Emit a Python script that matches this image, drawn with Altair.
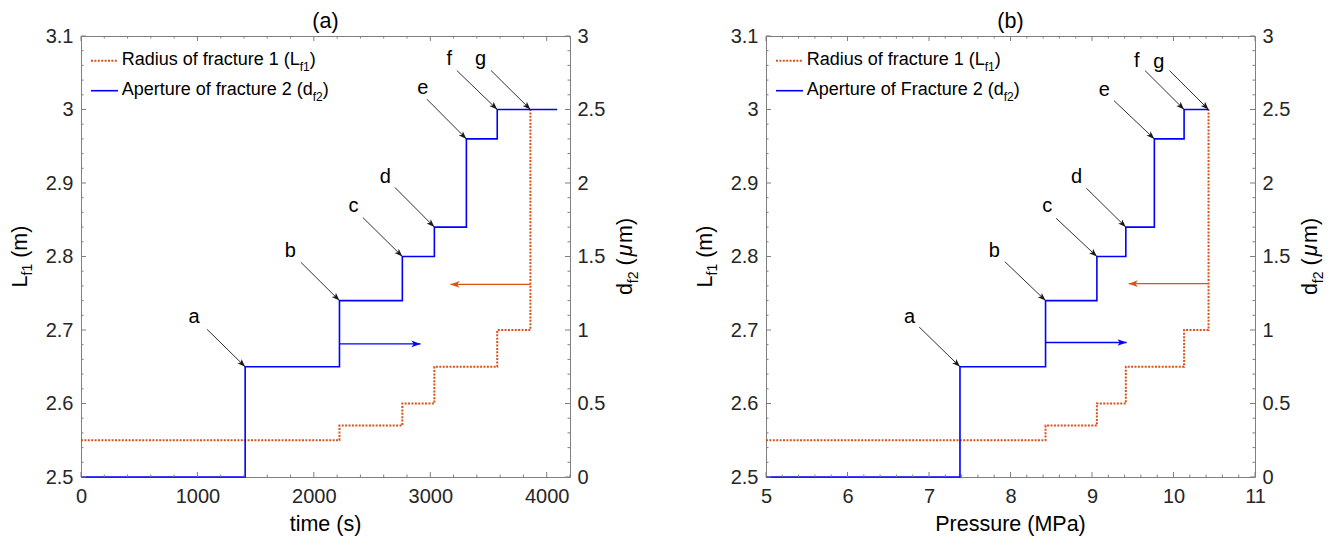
import math
import altair as alt
import pandas as pd

# ---------------- data ----------------
letters = ["a", "b", "c", "d", "e", "f", "g"]
aperture_um = [0, 0.75, 1.2, 1.5, 1.7, 2.3, 2.5, 2.5]      # d_f2 steps (right axis)
radius_m = [2.55, 2.57, 2.60, 2.65, 2.70, 3.00]            # L_f1 steps (left axis)

# panel (a): time
a_aperture_x = [0, 1410, 2220, 2760, 3035, 3310, 3575, 4090]
a_radius_x = [0, 2220, 2760, 3035, 3575, 3860]
a_label_x = [972, 1798, 2341, 2613, 2936, 3163, 3431]
a_label_y = [2.709, 2.800, 2.861, 2.900, 3.021, 3.060, 3.060]
a_arrow_x0 = [1082, 1889, 2421, 2696, 2971, 3228, 3522]
a_arrow_y0 = [2.701, 2.792, 2.853, 2.894, 3.014, 3.053, 3.053]
a_arrow_x1 = [1410, 2220, 2760, 3035, 3310, 3575, 3860]
a_arrow_y1 = [2.65, 2.74, 2.80, 2.84, 2.96, 3.00, 3.00]
a_side_x0 = [2220, 3860]
a_side_x1 = [2916, 3173]
a_side_y = [2.681, 2.762]

# panel (b): pressure
b_aperture_x = [5, 7.38, 8.43, 9.06, 9.415, 9.765, 10.13, 10.43]
b_radius_x = [5, 8.43, 9.06, 9.415, 10.13, 10.43]
b_label_x = [6.76, 7.80, 8.45, 8.81, 9.15, 9.55, 9.82]
b_label_y = [2.710, 2.800, 2.860, 2.900, 3.018, 3.058, 3.057]
b_arrow_x0 = [6.88, 7.93, 8.56, 8.93, 9.27, 9.65, 9.95]
b_arrow_y0 = [2.704, 2.793, 2.852, 2.893, 3.012, 3.053, 3.053]
b_arrow_x1 = [7.38, 8.43, 9.06, 9.415, 9.765, 10.13, 10.43]
b_arrow_y1 = [2.65, 2.74, 2.80, 2.84, 2.96, 3.00, 3.00]
b_side_x0 = [8.43, 10.43]
b_side_x1 = [9.425, 9.45]
b_side_y = [2.683, 2.763]

# axes
L_dom = [2.5, 3.1]
D_dom = [0, 3]
L_ticks = [2.5, 2.6, 2.7, 2.8, 2.9, 3.0, 3.1]
D_ticks = [0, 0.5, 1, 1.5, 2, 2.5, 3]
L_minor = [round(2.5 + 0.02 * i, 2) for i in range(31) if i % 5]
a_xdom = [0, 4200]
a_xticks = [0, 1000, 2000, 3000, 4000]
a_xminor = [v for v in range(0, 4201, 200) if v % 1000]
b_xdom = [5, 11]
b_xticks = [5, 6, 7, 8, 9, 10, 11]
b_xminor = [round(5 + 0.2 * i, 1) for i in range(31) if i % 5]

# ---------------- style ----------------
W, H = 489, 441
FONT = "Liberation Sans"
TXT = "#262626"
AXC = "#7f7f7f"
BLUE = "#0000ff"
RED = "#d95319"
HEAD = "M0,0 L-0.37,1 L0,0.75 L0.37,1 Z"
TICK_FS = 20
TITLE_FS = 21.5
SUB_FS = 14

WT = {" ": 278, "(": 333, ")": 333, "1": 556, "2": 556, "A": 667, "F": 611, "L": 556,
      "R": 722, "a": 556, "c": 500, "d": 556, "e": 556, "f": 278, "i": 222, "m": 833,
      "o": 556, "p": 556, "r": 333, "s": 500, "t": 278, "u": 556, "μ": 576}


def tw(s, fs):
    return sum(WT[c] for c in s) * fs / 1000.0


def head_angles(x0, y0, x1, y1, xdom):
    sx = W / (xdom[1] - xdom[0])
    sy = H / (L_dom[1] - L_dom[0])
    out = []
    for a, b, c, d in zip(x0, y0, x1, y1):
        ux = (c - a) * sx
        uy = -(d - b) * sy
        out.append(math.degrees(math.atan2(ux, -uy)) % 360)
    return out


def panel(p):
    xs = alt.Scale(domain=p["xdom"], nice=False, zero=False)
    ls = alt.Scale(domain=L_dom, nice=False, zero=False)
    ds = alt.Scale(domain=D_dom, nice=False, zero=False)
    common = dict(domain=False, ticks=False, tickSize=0, grid=False, labelFlush=False,
                  labelOverlap=False, labelFontSize=TICK_FS, labelColor=TXT, labelFont=FONT,
                  title=None)
    xaxis = alt.Axis(orient="bottom", values=p["xticks"], labelPadding=9, format="d", **common)

    def X(f):
        return alt.X(f, type="quantitative", scale=xs, axis=xaxis, title=None)

    def YL(f, axis=None):
        return alt.Y(f, type="quantitative", scale=ls, axis=axis, title=None)

    layers = []
    # red radius line (left axis)
    rad = pd.DataFrame({"x": p["rad_x"], "L": radius_m})
    layers.append(alt.Chart(rad).mark_line(color=RED, strokeWidth=2, strokeDash=[2, 1.4],
                                           interpolate="step-after").encode(
        x=X("x"), y=YL("L", alt.Axis(orient="left", values=L_ticks, labelPadding=8,
                                     format="~g", **common))))
    # blue aperture line (right axis)
    ap = pd.DataFrame({"x": p["ap_x"], "d": aperture_um})
    layers.append(alt.Chart(ap).mark_line(color=BLUE, strokeWidth=1.6,
                                          interpolate="step-after").encode(
        x=X("x"), y=alt.Y("d:Q", scale=ds, title=None,
                          axis=alt.Axis(orient="right", values=D_ticks, labelPadding=7,
                                        format="~g", **common))))
    # black annotation arrows
    arr = pd.DataFrame({"x0": p["ax0"], "y0": p["ay0"], "x1": p["ax1"], "y1": p["ay1"],
                        "ang": head_angles(p["ax0"], p["ay0"], p["ax1"], p["ay1"], p["xdom"])})
    layers.append(alt.Chart(arr).mark_rule(color="#1a1a1a", strokeWidth=0.9).encode(
        x=X("x0"), x2="x1", y=YL("y0"), y2="y1"))
    layers.append(alt.Chart(arr).mark_point(shape=HEAD, filled=True, size=256, opacity=1,
                                            color="#1a1a1a", strokeWidth=0).encode(
        x=X("x1"), y=YL("y1"), angle=alt.Angle("ang:Q", scale=None)))
    # coloured side arrows
    side = pd.DataFrame({"x0": p["sx0"], "x1": p["sx1"], "y": p["sy"], "c": [BLUE, RED],
                         "ang": head_angles(p["sx0"], p["sy"], p["sx1"], p["sy"], p["xdom"])})
    layers.append(alt.Chart(side).mark_rule(strokeWidth=1.3).encode(
        x=X("x0"), x2="x1", y=YL("y"), color=alt.Color("c:N", scale=None)))
    layers.append(alt.Chart(side).mark_point(shape=HEAD, filled=True, size=330, opacity=1,
                                             strokeWidth=0).encode(
        x=X("x1"), y=YL("y"), angle=alt.Angle("ang:Q", scale=None),
        color=alt.Color("c:N", scale=None)))
    # letters
    lab = pd.DataFrame({"x": p["lx"], "y": p["ly"], "t": letters})
    layers.append(alt.Chart(lab).mark_text(font=FONT, fontSize=20, color="#000000",
                                           align="center", baseline="alphabetic").encode(
        x=X("x"), y=YL("y"), text="t:N"))
    # inner ticks (box style)
    for vals, ln in ((p["xticks"], 5), (p["xminor"], 2.5)):
        df = pd.DataFrame({"t": vals})
        layers.append(alt.Chart(df).mark_rule(color=AXC, strokeWidth=1).encode(
            x=X("t"), y=alt.value(H), y2=alt.value(H - ln)))
        layers.append(alt.Chart(df).mark_rule(color=AXC, strokeWidth=1).encode(
            x=X("t"), y=alt.value(0), y2=alt.value(ln)))
    for vals, ln in ((L_ticks, 5), (L_minor, 2.5)):
        df = pd.DataFrame({"t": vals})
        layers.append(alt.Chart(df).mark_rule(color=AXC, strokeWidth=1).encode(
            y=YL("t"), x=alt.value(0), x2=alt.value(ln)))
        layers.append(alt.Chart(df).mark_rule(color=AXC, strokeWidth=1).encode(
            y=YL("t"), x=alt.value(W - ln), x2=alt.value(W)))
    # legend samples
    leg_red = pd.DataFrame({"px": [10], "px2": [37], "py": [24.7]})
    leg_blue = pd.DataFrame({"px": [10], "px2": [37], "py": [54.7]})
    layers.append(alt.Chart(leg_red).mark_rule(color=RED, strokeWidth=2, strokeDash=[2, 1.4]).encode(
        x=alt.X("px:Q", scale=None), x2="px2:Q", y=alt.Y("py:Q", scale=None)))
    layers.append(alt.Chart(leg_blue).mark_rule(color=BLUE, strokeWidth=1.6).encode(
        x=alt.X("px:Q", scale=None), x2="px2:Q", y=alt.Y("py:Q", scale=None)))

    # left aligned text pieces (legend and y titles with subscripts)
    rows = []
    x0 = 40.7
    t1 = "Radius of fracture 1 (L"
    rows += [(t1, x0, 29, 18, 0),
             ("f1", x0 + tw(t1, 18), 35, 12, 0),
             (")", x0 + tw(t1, 18) + tw("f1", 12), 29, 18, 0)]
    t2 = p["leg2"] + " (d"
    rows += [(t2, x0, 59, 18, 0),
             ("f2", x0 + tw(t2, 18), 65, 12, 0),
             (")", x0 + tw(t2, 18) + tw("f2", 12), 59, 18, 0)]
    # left title  L_f1 (m), rotated (leading spaces are skipped in SVG -> offsets)
    bx = -54.5
    tot = tw("L", TITLE_FS) + tw("f1", SUB_FS) + tw(" (m)", TITLE_FS)
    sy = H / 2 + tot / 2
    rows += [("L", bx, sy, TITLE_FS, 270),
             ("f1", bx + 5.5, sy - tw("L", TITLE_FS), SUB_FS, 270),
             ("(m)", bx, sy - tw("L", TITLE_FS) - tw("f1", SUB_FS) - tw(" ", TITLE_FS),
              TITLE_FS, 270)]
    # right title  d_f2 (μm), rotated
    rx = W + 62
    tot = tw("d", TITLE_FS) + tw("f2", SUB_FS) + tw(" (μm)", TITLE_FS) + 3
    sy = H / 2 + tot / 2
    o1 = tw("d", TITLE_FS)
    o2 = o1 + tw("f2", SUB_FS)
    o3 = o2 + tw(" (", TITLE_FS) + 2
    o4 = o3 + tw("μ", TITLE_FS) + 1
    rows += [("d", rx, sy, TITLE_FS, 270),
             ("f2", rx + 5.5, sy - o1, SUB_FS, 270),
             ("(", rx, sy - o2 - tw(" ", TITLE_FS), TITLE_FS, 270),
             ("m)", rx, sy - o4, TITLE_FS, 270)]
    txt = pd.DataFrame(rows, columns=["t", "px", "py", "fs", "ang"])
    layers.append(alt.Chart(txt).mark_text(font=FONT, color="#000000", align="left",
                                           baseline="alphabetic").encode(
        x=alt.X("px:Q", scale=None), y=alt.Y("py:Q", scale=None), text="t:N",
        size=alt.Size("fs:Q", scale=None), angle=alt.Angle("ang:Q", scale=None)))
    mu = pd.DataFrame({"t": ["μ"], "px": [rx], "py": [sy - o3]})
    layers.append(alt.Chart(mu).mark_text(font=FONT, color="#000000", align="left",
                                          fontSize=TITLE_FS, fontStyle="italic", angle=270,
                                          baseline="alphabetic").encode(
        x=alt.X("px:Q", scale=None), y=alt.Y("py:Q", scale=None), text="t:N"))
    # centred texts: panel title and x title
    ct = pd.DataFrame({"t": [p["title"], p["xtitle"]], "px": [W / 2, W / 2], "py": [-8, H + 54]})
    layers.append(alt.Chart(ct).mark_text(font=FONT, color="#000000", align="center",
                                          fontSize=TITLE_FS, baseline="alphabetic").encode(
        x=alt.X("px:Q", scale=None), y=alt.Y("py:Q", scale=None), text="t:N"))

    return alt.layer(*layers).resolve_scale(y="independent").properties(width=W, height=H)


pa = panel(dict(xdom=a_xdom, xticks=a_xticks, xminor=a_xminor, rad_x=a_radius_x,
                ap_x=a_aperture_x, ax0=a_arrow_x0, ay0=a_arrow_y0, ax1=a_arrow_x1,
                ay1=a_arrow_y1, sx0=a_side_x0, sx1=a_side_x1, sy=a_side_y, lx=a_label_x,
                ly=a_label_y, leg2="Aperture of fracture 2", title="(a)", xtitle="time (s)"))
pb = panel(dict(xdom=b_xdom, xticks=b_xticks, xminor=b_xminor, rad_x=b_radius_x,
                ap_x=b_aperture_x, ax0=b_arrow_x0, ay0=b_arrow_y0, ax1=b_arrow_x1,
                ay1=b_arrow_y1, sx0=b_side_x0, sx1=b_side_x1, sy=b_side_y, lx=b_label_x,
                ly=b_label_y, leg2="Aperture of Fracture 2", title="(b)",
                xtitle="Pressure (MPa)"))

chart = alt.hconcat(pa, pb, spacing=196, bounds="flush").properties(
    padding={"left": 8, "top": 10, "right": 5, "bottom": 5},
    background="#ffffff",
).configure_view(stroke=AXC, strokeWidth=1).configure_text(font=FONT)

chart.save("out.html", embed_options={"renderer": "svg", "actions": False})
